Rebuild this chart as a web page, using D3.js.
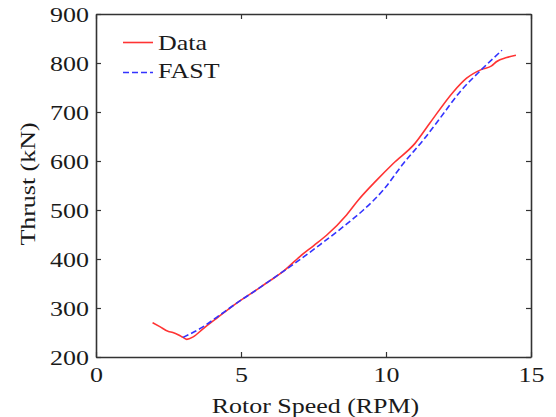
<!DOCTYPE html>
<html>
<head>
<meta charset="utf-8">
<script src="https://cdn.jsdelivr.net/npm/d3@7"></script>
<style>
  body { margin: 0; background: #fff; }
  svg { display: block; }
  text { font-family: "Liberation Serif", "Times New Roman", serif; fill: #1a1a1a; }
</style>
</head>
<body>
<svg id="chart" width="556" height="417"></svg>
<script>
// Measured data (Rotor speed in RPM, thrust in kN)
const dataRpm    = [1.95, 2.2, 2.5, 2.65, 2.85, 3.0, 3.13, 3.35, 3.7, 4.16, 4.85, 5.66, 6.0, 6.4, 7.03, 7.5, 7.96, 8.64, 9.04, 9.68, 10.25, 11.0, 11.52, 12.32, 12.78, 13.3, 13.64, 13.82, 14.16, 14.48];
const dataThrust = [270, 262, 252, 250, 245, 240, 236, 241, 258, 279, 310, 342, 356, 372, 405, 427, 449, 490, 520, 561, 595, 636, 678, 741, 769, 787, 794, 803, 811, 816];
// FAST simulation
const fastRpm    = [3.0, 3.7, 4.16, 4.85, 5.66, 6.0, 6.92, 7.72, 8.53, 9.22, 9.91, 10.6, 11.29, 11.86, 12.55, 13.3, 14.0];
const fastThrust = [240, 262, 281, 310, 342, 356, 394, 429, 466, 500, 541, 595, 643, 687, 741, 787, 826];

const xTicks = [0, 5, 10, 15];
const yTicks = [200, 300, 400, 500, 600, 700, 800, 900];
const seriesNames = ["Data", "FAST"];

const svg = d3.select("#chart");
const m = { left: 96, top: 14, right: 531, bottom: 357 };
const x = d3.scaleLinear().domain([0, 15]).range([m.left, m.right]);
const y = d3.scaleLinear().domain([200, 900]).range([m.bottom, m.top]);
const axisColor = "#333";
const FS = 22;        // font size
const SX = 1.18;      // horizontal stretch of the glyphs

function stretch(sel) {
  sel.each(function () {
    const t = d3.select(this);
    const tx = +t.attr("x") || 0, ty = +t.attr("y") || 0;
    const prev = t.attr("transform") || "";
    t.attr("transform", `${prev} translate(${tx},${ty}) scale(${SX},1) translate(${-tx},${-ty})`);
  });
}

// Curves
const line = d3.line().x(d => x(d[0])).y(d => y(d[1])).curve(d3.curveMonotoneX);
const dataPts = dataRpm.map((v, i) => [v, dataThrust[i]]);
const fastPts = fastRpm.map((v, i) => [v, fastThrust[i]]);

svg.append("path").datum(dataPts).attr("d", line)
  .attr("fill", "none").attr("stroke", "#ff3333").attr("stroke-width", 1.6);
svg.append("path").datum(fastPts).attr("d", line)
  .attr("fill", "none").attr("stroke", "#3333ff").attr("stroke-width", 1.6)
  .attr("stroke-dasharray", "6,3");

// Axes (ticks inward)
const fmt = d3.format("d");
const gBottom = svg.append("g").attr("transform", `translate(0,${m.bottom})`)
  .call(d3.axisBottom(x).tickValues(xTicks).tickFormat(fmt).tickSizeInner(-5).tickSizeOuter(0).tickPadding(9));
const gTop = svg.append("g").attr("transform", `translate(0,${m.top})`)
  .call(d3.axisTop(x).tickValues(xTicks).tickFormat("").tickSizeInner(-5).tickSizeOuter(0));
const gLeft = svg.append("g").attr("transform", `translate(${m.left},0)`)
  .call(d3.axisLeft(y).tickValues(yTicks).tickFormat(fmt).tickSizeInner(-5).tickSizeOuter(0).tickPadding(7));
const gRight = svg.append("g").attr("transform", `translate(${m.right},0)`)
  .call(d3.axisRight(y).tickValues(yTicks).tickFormat("").tickSizeInner(-5).tickSizeOuter(0));

[gBottom, gTop, gLeft, gRight].forEach(g => {
  g.select(".domain").attr("stroke", axisColor).attr("stroke-width", 1.6);
  g.selectAll(".tick line").attr("stroke", axisColor).attr("stroke-width", 1.2);
  g.selectAll(".tick text").attr("font-size", FS).attr("fill", "#1a1a1a")
    .attr("font-family", "'Liberation Serif', 'Times New Roman', serif")
    .call(stretch);
});

// Axis titles
svg.append("text").attr("x", (m.left + m.right) / 2 + 2).attr("y", 413)
  .attr("text-anchor", "middle").attr("font-size", FS).text("Rotor Speed (RPM)").call(stretch);
svg.append("text").attr("transform", `translate(35,184) rotate(-90) scale(${SX},1)`)
  .attr("text-anchor", "middle").attr("font-size", FS).text("Thrust (kN)");

// Legend
const legend = svg.append("g");
const legendColors = ["#ff3333", "#3333ff"];
const legendDash = [null, "6,3"];
const legendLineY = [42.5, 72.5];
const legendTextY = [50, 78];
seriesNames.forEach((name, i) => {
  legend.append("line").attr("x1", 123).attr("x2", 153).attr("y1", legendLineY[i]).attr("y2", legendLineY[i])
    .attr("stroke", legendColors[i]).attr("stroke-width", 1.6)
    .attr("stroke-dasharray", legendDash[i]);
  legend.append("text").attr("x", 158).attr("y", legendTextY[i]).attr("font-size", FS).text(name).call(stretch);
});
</script>
</body>
</html>
